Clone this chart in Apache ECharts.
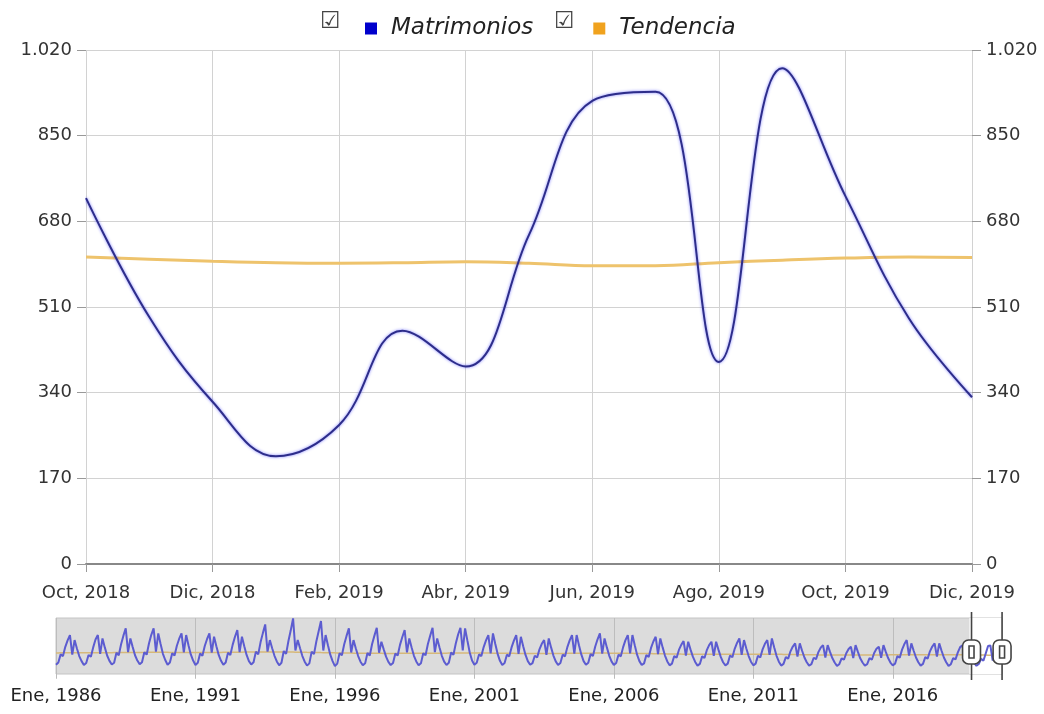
<!DOCTYPE html>
<html>
<head>
<meta charset="utf-8">
<script src="https://cdn.jsdelivr.net/npm/echarts@6/dist/echarts.min.js"></script>
<style>
html, body { margin: 0; padding: 0; background: #fff; }
#chart { width: 1044px; height: 714px; }
</style>
</head>
<body>
<div id="chart"></div>
<script>
var monthNames = ['Ene', 'Feb', 'Mar', 'Abr', 'May', 'Jun', 'Jul', 'Ago', 'Sep', 'Oct', 'Nov', 'Dic'];
var firstYear = 1986;
var windowStart = '2018-10';
var windowEnd = '2019-12';

// monthly values, one row per year (Ene..Dic), 1986..2019
var matrimoniosByYear = [
  [250, 330, 620, 560, 890, 1120, 1310, 610, 1131, 830, 560, 380],
  [240, 310, 600, 540, 870, 1150, 1310, 640, 1190, 870, 580, 390],
  [260, 320, 680, 590, 980, 1290, 1548, 700, 1190, 880, 590, 400],
  [270, 340, 700, 610, 1010, 1320, 1548, 720, 1369, 990, 640, 420],
  [250, 330, 660, 580, 930, 1180, 1369, 690, 1310, 950, 620, 400],
  [240, 320, 650, 570, 920, 1170, 1369, 680, 1250, 910, 600, 390],
  [250, 330, 680, 600, 960, 1250, 1488, 700, 1250, 910, 600, 380],
  [260, 340, 720, 620, 1050, 1380, 1690, 720, 1131, 840, 570, 370],
  [230, 320, 740, 640, 1100, 1480, 1905, 760, 1131, 840, 560, 360],
  [220, 300, 720, 630, 1080, 1450, 1810, 760, 1310, 950, 610, 380],
  [200, 290, 660, 590, 980, 1280, 1548, 690, 1131, 830, 560, 360],
  [230, 300, 670, 580, 990, 1290, 1571, 680, 1071, 800, 540, 350],
  [240, 310, 650, 580, 960, 1240, 1488, 690, 1190, 870, 570, 370],
  [230, 300, 660, 590, 990, 1290, 1571, 700, 1190, 870, 570, 360],
  [240, 320, 690, 610, 1010, 1330, 1571, 760, 1548, 1110, 690, 400],
  [250, 320, 620, 560, 880, 1120, 1310, 660, 1369, 990, 640, 390],
  [240, 310, 610, 550, 870, 1110, 1310, 640, 1250, 910, 600, 380],
  [250, 310, 570, 510, 800, 1000, 1131, 600, 1190, 870, 580, 370],
  [240, 310, 610, 550, 880, 1120, 1310, 650, 1310, 950, 620, 380],
  [250, 320, 630, 560, 900, 1160, 1369, 650, 1190, 870, 580, 370],
  [240, 310, 610, 550, 880, 1130, 1310, 660, 1310, 950, 610, 380],
  [240, 300, 600, 530, 850, 1080, 1250, 630, 1190, 870, 580, 370],
  [230, 290, 560, 500, 780, 960, 1095, 580, 1071, 790, 540, 350],
  [220, 280, 550, 490, 770, 950, 1071, 570, 1071, 790, 530, 340],
  [230, 290, 580, 520, 820, 1030, 1190, 600, 1131, 830, 560, 360],
  [230, 290, 570, 510, 800, 1000, 1131, 600, 1190, 870, 570, 360],
  [220, 280, 520, 470, 730, 900, 1012, 540, 1012, 750, 510, 340],
  [220, 270, 500, 450, 700, 860, 952, 510, 952, 710, 490, 330],
  [210, 270, 480, 430, 660, 810, 893, 490, 952, 710, 480, 330],
  [220, 270, 490, 430, 670, 820, 893, 500, 952, 710, 490, 330],
  [230, 290, 560, 500, 790, 990, 1131, 580, 1012, 750, 510, 340],
  [220, 280, 520, 470, 730, 900, 1012, 540, 1012, 750, 510, 340],
  [210, 270, 490, 440, 690, 880, 950, 470, 960, 726, 490, 322],
  [214, 276, 463, 392, 653, 919, 937, 401, 984, 730, 488, 331]
];

var tendenciaByYear = [
  [672, 674, 676, 678, 679, 680, 681, 681, 680, 679, 678, 677],
  [676, 675, 675, 676, 677, 678, 679, 680, 681, 681, 682, 682],
  [683, 684, 685, 686, 687, 688, 688, 689, 689, 690, 690, 690],
  [691, 692, 692, 693, 694, 694, 695, 695, 695, 694, 694, 693],
  [693, 692, 692, 691, 691, 690, 690, 689, 689, 688, 688, 688],
  [687, 687, 686, 686, 686, 687, 687, 688, 689, 690, 691, 692],
  [693, 694, 695, 696, 697, 698, 699, 700, 701, 702, 702, 703],
  [704, 705, 706, 706, 707, 708, 708, 709, 709, 709, 709, 708],
  [708, 707, 706, 705, 704, 703, 702, 700, 699, 698, 696, 695],
  [693, 692, 690, 689, 687, 686, 684, 683, 681, 680, 678, 677],
  [675, 674, 672, 671, 670, 668, 667, 666, 665, 664, 663, 662],
  [661, 660, 659, 659, 658, 658, 657, 657, 657, 656, 656, 656],
  [656, 656, 656, 656, 657, 657, 657, 658, 658, 658, 659, 659],
  [659, 660, 660, 661, 661, 662, 662, 663, 663, 664, 664, 665],
  [665, 666, 666, 667, 667, 668, 668, 668, 669, 669, 669, 669],
  [669, 669, 669, 668, 668, 667, 667, 666, 665, 665, 664, 663],
  [662, 661, 660, 659, 658, 657, 656, 655, 654, 653, 652, 651],
  [650, 650, 649, 649, 649, 649, 649, 650, 650, 651, 651, 652],
  [653, 654, 655, 656, 657, 658, 659, 660, 661, 662, 662, 663],
  [664, 664, 665, 665, 666, 666, 666, 666, 666, 666, 665, 665],
  [664, 664, 663, 662, 661, 660, 659, 658, 657, 656, 655, 654],
  [653, 652, 650, 649, 648, 646, 645, 644, 642, 641, 640, 638],
  [637, 636, 634, 633, 632, 630, 629, 628, 627, 626, 625, 624],
  [623, 622, 622, 621, 621, 621, 621, 621, 621, 622, 622, 622],
  [623, 623, 624, 624, 625, 625, 626, 626, 627, 627, 627, 628],
  [628, 628, 628, 628, 627, 627, 626, 626, 625, 624, 623, 622],
  [621, 620, 618, 617, 616, 614, 613, 612, 611, 610, 609, 608],
  [607, 606, 605, 604, 603, 602, 602, 601, 600, 600, 599, 599],
  [598, 598, 598, 597, 597, 597, 597, 597, 597, 598, 598, 598],
  [598, 599, 599, 600, 600, 601, 601, 602, 602, 603, 603, 604],
  [604, 605, 605, 606, 606, 607, 607, 608, 608, 609, 609, 609],
  [610, 610, 610, 610, 611, 611, 611, 611, 611, 611, 611, 611],
  [611, 611, 611, 611, 610, 610, 610, 610, 610, 609, 605, 601],
  [598, 597, 598, 600, 597, 592, 592, 598, 603, 607, 609, 608]
];

var categories = [];
var matrimonios = [];
var tendencia = [];
matrimoniosByYear.forEach(function (row, i) {
  row.forEach(function (v, m) {
    categories.push((firstYear + i) + '-' + (m < 9 ? '0' : '') + (m + 1));
    matrimonios.push(v);
    tendencia.push(tendenciaByYear[i][m]);
  });
});

var font = 'DejaVu Sans';

function monthLabel(value) {
  var p = value.split('-');
  return monthNames[+p[1] - 1] + ', ' + p[0];
}
function everyOtherMonth(index, value) {
  return +value.split('-')[1] % 2 === 0;
}
function everyFiveYears(index, value) {
  return value.slice(5) === '01' && (+value.slice(0, 4) - firstYear) % 5 === 0;
}
function thousands(v) {
  if (v >= 1000) {
    var r = String(v % 1000);
    while (r.length < 3) r = '0' + r;
    return Math.floor(v / 1000) + '.' + r;
  }
  return String(v);
}

var yCommon = {
  type: 'value',
  min: 0,
  max: 1020,
  interval: 170,
  axisLine: { show: false },
  axisTick: { show: true, length: 9, lineStyle: { color: '#999' } },
  axisLabel: { margin: 14, fontSize: 18, color: '#333', fontFamily: font, formatter: thousands },
  splitLine: { lineStyle: { color: '#d2d2d2' } }
};

var chart = echarts.init(document.getElementById('chart'));

chart.setOption({
  animation: false,
  backgroundColor: '#fff',
  textStyle: { fontFamily: font },
  legend: {
    left: 360,
    top: 12,
    icon: 'rect',
    itemWidth: 12,
    itemHeight: 12,
    itemGap: 60,
    selectedMode: false,
    textStyle: { fontSize: 23, fontStyle: 'italic', fontFamily: font, color: '#222', padding: [0, 0, 0, 9] },
    data: [
      { name: 'Matrimonios', itemStyle: { color: '#0000cc' } },
      { name: 'Tendencia', itemStyle: { color: '#f0a21e' } }
    ]
  },
  graphic: [
    { type: 'text', left: 320, top: 11, style: { text: '\u2611', fontSize: 23, fill: '#444', fontFamily: font } },
    { type: 'text', left: 554, top: 11, style: { text: '\u2611', fontSize: 23, fill: '#444', fontFamily: font } }
  ],
  grid: [
    { left: 86, right: 72, top: 50, bottom: 150 },
    { left: 56, right: 42, top: 618, height: 56, show: true, backgroundColor: '#dcdcdc', borderColor: '#c4c4c4', borderWidth: 1 }
  ],
  xAxis: [
    {
      type: 'category',
      gridIndex: 0,
      data: categories,
      boundaryGap: false,
      axisLine: { lineStyle: { color: '#888', width: 2 } },
      axisTick: { interval: everyOtherMonth, length: 8, lineStyle: { color: '#999' } },
      axisLabel: { interval: everyOtherMonth, formatter: monthLabel, margin: 20, fontSize: 18, color: '#333', fontFamily: font },
      splitLine: { show: true, interval: everyOtherMonth, lineStyle: { color: '#d2d2d2' } }
    },
    {
      type: 'category',
      gridIndex: 1,
      data: categories,
      boundaryGap: false,
      axisLine: { show: false },
      axisTick: { interval: everyFiveYears, length: 7, lineStyle: { color: '#bbb' } },
      axisLabel: { interval: everyFiveYears, formatter: monthLabel, margin: 13, fontSize: 18, color: '#222', fontFamily: font },
      splitLine: { show: true, interval: everyFiveYears, lineStyle: { color: '#bdbdbd' } }
    }
  ],
  yAxis: [
    Object.assign({ gridIndex: 0, position: 'left' }, yCommon),
    Object.assign({ gridIndex: 0, position: 'right' }, yCommon),
    { type: 'value', gridIndex: 1, min: -80, max: 1920, show: false, splitLine: { show: false } }
  ],
  dataZoom: [{
    type: 'slider',
    xAxisIndex: 0,
    filterMode: 'filter',
    startValue: windowStart,
    endValue: windowEnd,
    left: 56,
    right: 42,
    top: 618,
    height: 56,
    showDataShadow: false,
    showDetail: false,
    brushSelect: false,
    moveHandleSize: 0,
    backgroundColor: 'rgba(0,0,0,0)',
    borderColor: 'rgba(0,0,0,0)',
    fillerColor: 'rgba(0,0,0,0)',
    handleIcon: 'path://M0,0V16M0,40V68M-9,22A6,6,0,0,1,-3,16H3A6,6,0,0,1,9,22V34A6,6,0,0,1,3,40H-3A6,6,0,0,1,-9,34ZM-2.5,22H2.5V34H-2.5Z',
    handleSize: '121%',
    handleStyle: { color: '#fff', borderColor: '#444', borderWidth: 1.6 }
  }],
  series: [
    {
      name: 'Tendencia',
      type: 'line',
      xAxisIndex: 0,
      yAxisIndex: 1,
      data: tendencia,
      smooth: 0.4,
      symbol: 'none',
      itemStyle: { color: '#f0a21e' },
      lineStyle: { color: '#eec36c', width: 3 }
    },
    {
      name: 'Matrimonios',
      type: 'line',
      xAxisIndex: 0,
      yAxisIndex: 0,
      data: matrimonios,
      smooth: 0.4,
      symbol: 'none',
      itemStyle: { color: '#0000cc' },
      lineStyle: { color: '#2d2d8a', width: 2, shadowColor: 'rgba(40,40,255,0.6)', shadowBlur: 3 }
    },
    {
      name: 'Tendencia',
      type: 'line',
      xAxisIndex: 1,
      yAxisIndex: 2,
      data: tendencia,
      symbol: 'none',
      silent: true,
      itemStyle: { color: '#f0a21e' },
      lineStyle: { color: '#d6b87a', width: 1.5 }
    },
    {
      name: 'Matrimonios',
      type: 'line',
      xAxisIndex: 1,
      yAxisIndex: 2,
      data: matrimonios,
      symbol: 'none',
      silent: true,
      itemStyle: { color: '#0000cc' },
      lineStyle: { color: '#5c5cd0', width: 2 },
      markArea: {
        silent: true,
        itemStyle: { color: '#ffffff', opacity: 1 },
        data: [[{ xAxis: windowStart }, { xAxis: windowEnd }]]
      }
    }
  ]
});
</script>
</body>
</html>
